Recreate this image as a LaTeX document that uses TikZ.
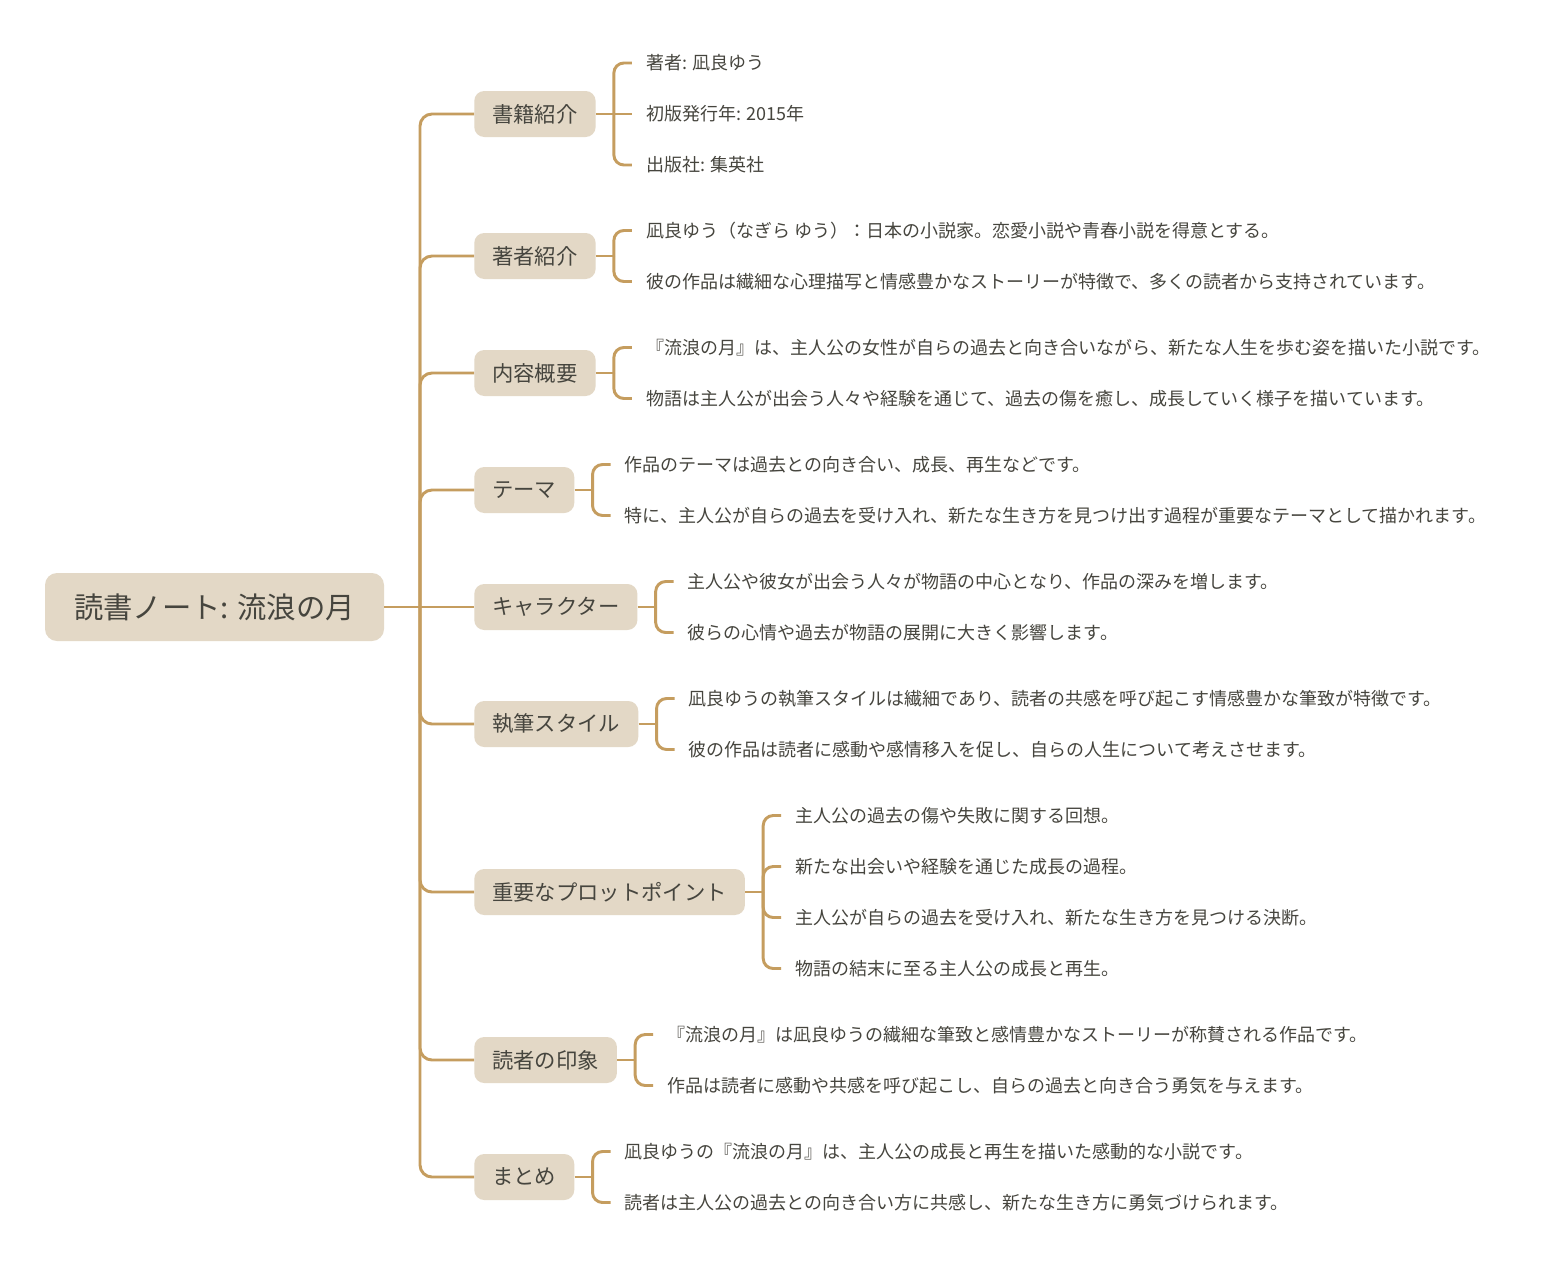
\documentclass[tikz,border=0pt]{standalone}
\usepackage{fontspec}
\setmainfont{Noto Sans CJK JP}
\usetikzlibrary{calc}
\definecolor{linec}{HTML}{C59D5F}
\definecolor{boxc}{HTML}{E3D8C6}
\definecolor{txtc}{HTML}{46453E}
\tikzset{
  rootbox/.style={fill=boxc, rounded corners=9pt, minimum width=254.25pt, minimum height=51pt,
    inner sep=0pt, font=\fontsize{22}{26}\selectfont, text=txtc},
  branchbox/.style={fill=boxc, rounded corners=7.5pt, minimum height=34.5pt, inner xsep=13.5pt,
    inner ysep=0pt, font=\fontsize{16}{19}\selectfont, text=txtc, anchor=west},
  leaftext/.style={anchor=west, inner xsep=10.5pt, inner ysep=0pt,
    font=\fontsize{13.5}{16}\selectfont, text=txtc},
  conn/.style={draw=linec, line width=2.2pt},
  spine/.style={conn, rounded corners=9pt},
  brk/.style={conn, rounded corners=7.5pt}
}
\begin{document}
\begin{tikzpicture}[x=0.75pt, y=-0.75pt]
\useasboundingbox (0,0) rectangle (1555,1281);
\fill[white] (0,0) rectangle (1555,1281);
% root
\node[rootbox] (root) at (214.5,607) {読書ノート: 流浪の月};
\coordinate (hub) at (420,607);
% branches
\node[branchbox] (b1) at (474,114) {書籍紹介};
\node[branchbox] (b2) at (474,256) {著者紹介};
\node[branchbox] (b3) at (474,373) {内容概要};
\node[branchbox] (b4) at (474,490) {テーマ};
\node[branchbox] (b5) at (474,607) {キャラクター};
\node[branchbox] (b6) at (474,724) {執筆スタイル};
\node[branchbox] (b7) at (474,892) {重要なプロットポイント};
\node[branchbox] (b8) at (474,1060) {読者の印象};
\node[branchbox] (b9) at (474,1177) {まとめ};
% spine connectors
\draw[conn] (root.east) -- (b5.west);
\foreach \b in {b1,b2,b3,b4,b6,b7,b8,b9}{
  \draw[spine] (hub) |- (\b.west);
}
% bracket coordinates
\foreach \b in {1,...,9}{
  \coordinate (k\b) at ($(b\b.east)+(18,0)$);
  \draw[conn] (b\b.east) -- (k\b);
}
% leaves
\node[leaftext] (l11) at ($(k1)+(18,-51)$) {著者: 凪良ゆう};
\node[leaftext] (l12) at ($(k1)+(18,0)$) {初版発行年: 2015年};
\node[leaftext] (l13) at ($(k1)+(18,51)$) {出版社: 集英社};
\node[leaftext] (l21) at ($(k2)+(18,-25.5)$) {凪良ゆう（なぎら ゆう）：日本の小説家。恋愛小説や青春小説を得意とする。};
\node[leaftext] (l22) at ($(k2)+(18,25.5)$) {彼の作品は繊細な心理描写と情感豊かなストーリーが特徴で、多くの読者から支持されています。};
\node[leaftext] (l31) at ($(k3)+(18,-25.5)$) {『流浪の月』は、主人公の女性が自らの過去と向き合いながら、新たな人生を歩む姿を描いた小説です。};
\node[leaftext] (l32) at ($(k3)+(18,25.5)$) {物語は主人公が出会う人々や経験を通じて、過去の傷を癒し、成長していく様子を描いています。};
\node[leaftext] (l41) at ($(k4)+(18,-25.5)$) {作品のテーマは過去との向き合い、成長、再生などです。};
\node[leaftext] (l42) at ($(k4)+(18,25.5)$) {特に、主人公が自らの過去を受け入れ、新たな生き方を見つけ出す過程が重要なテーマとして描かれます。};
\node[leaftext] (l51) at ($(k5)+(18,-25.5)$) {主人公や彼女が出会う人々が物語の中心となり、作品の深みを増します。};
\node[leaftext] (l52) at ($(k5)+(18,25.5)$) {彼らの心情や過去が物語の展開に大きく影響します。};
\node[leaftext] (l61) at ($(k6)+(18,-25.5)$) {凪良ゆうの執筆スタイルは繊細であり、読者の共感を呼び起こす情感豊かな筆致が特徴です。};
\node[leaftext] (l62) at ($(k6)+(18,25.5)$) {彼の作品は読者に感動や感情移入を促し、自らの人生について考えさせます。};
\node[leaftext] (l71) at ($(k7)+(18,-76.5)$) {主人公の過去の傷や失敗に関する回想。};
\node[leaftext] (l72) at ($(k7)+(18,-25.5)$) {新たな出会いや経験を通じた成長の過程。};
\node[leaftext] (l73) at ($(k7)+(18,25.5)$) {主人公が自らの過去を受け入れ、新たな生き方を見つける決断。};
\node[leaftext] (l74) at ($(k7)+(18,76.5)$) {物語の結末に至る主人公の成長と再生。};
\node[leaftext] (l81) at ($(k8)+(18,-25.5)$) {『流浪の月』は凪良ゆうの繊細な筆致と感情豊かなストーリーが称賛される作品です。};
\node[leaftext] (l82) at ($(k8)+(18,25.5)$) {作品は読者に感動や共感を呼び起こし、自らの過去と向き合う勇気を与えます。};
\node[leaftext] (l91) at ($(k9)+(18,-25.5)$) {凪良ゆうの『流浪の月』は、主人公の成長と再生を描いた感動的な小説です。};
\node[leaftext] (l92) at ($(k9)+(18,25.5)$) {読者は主人公の過去との向き合い方に共感し、新たな生き方に勇気づけられます。};
% bracket connectors
\draw[brk] (k1) |- (l11.west);
\draw[conn] (k1) -- (l12.west);
\draw[brk] (k1) |- (l13.west);
\foreach \b in {2,3,4,5,6,8,9}{
  \draw[brk] (k\b) |- (l\b1.west);
  \draw[brk] (k\b) |- (l\b2.west);
}
\foreach \l in {1,2,3,4}{
  \draw[brk] (k7) |- (l7\l.west);
}
\end{tikzpicture}
\end{document}
